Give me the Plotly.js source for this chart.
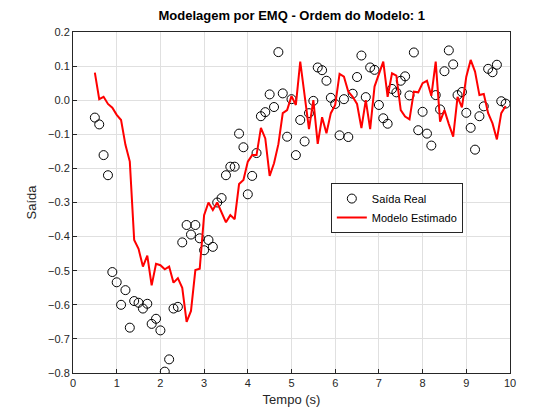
<!DOCTYPE html>
<html>
<head>
<meta charset="utf-8">
<script src="https://cdn.plot.ly/plotly-3.0.1.min.js"></script>
<style>body{margin:0;background:#fff}#graph{width:560px;height:420px}</style>
</head>
<body>
<div id="graph"></div>
<script>
var tempo = [0.5,0.6,0.7,0.8,0.9,1.0,1.1,1.2,1.3,1.4,1.5,1.6,1.7,1.8,1.9,2.0,2.1,2.2,2.3,2.4,
  2.5,2.6,2.7,2.8,2.9,3.0,3.1,3.2,3.3,3.4,3.5,3.6,3.7,3.8,3.9,4.0,4.1,4.2,4.3,4.4,
  4.5,4.6,4.7,4.8,4.9,5.0,5.1,5.2,5.3,5.4,5.5,5.6,5.7,5.8,5.9,6.0,6.1,6.2,6.3,6.4,
  6.5,6.6,6.7,6.8,6.9,7.0,7.1,7.2,7.3,7.4,7.5,7.6,7.7,7.8,7.9,8.0,8.1,8.2,8.3,8.4,
  8.5,8.6,8.7,8.8,8.9,9.0,9.1,9.2,9.3,9.4,9.5,9.6,9.7,9.8,9.9];

var saidaReal = [-0.051,-0.071,-0.161,-0.220,-0.504,-0.534,-0.600,-0.557,-0.667,-0.589,
  -0.594,-0.611,-0.597,-0.656,-0.641,-0.675,-0.796,-0.760,-0.611,-0.606,
  -0.417,-0.366,-0.394,-0.366,-0.405,-0.440,-0.410,-0.430,-0.300,-0.287,
  -0.220,-0.195,-0.195,-0.098,-0.138,-0.276,-0.222,-0.155,-0.047,-0.035,
  0.017,-0.020,0.141,0.020,-0.107,0.003,-0.161,-0.058,-0.121,-0.038,
  -0.002,0.096,0.088,0.057,0.007,-0.011,-0.103,0.003,-0.108,0.019,
  0.068,0.131,0.009,0.096,0.089,-0.014,-0.053,-0.069,0.033,0.023,
  0.057,0.070,0.014,0.140,-0.088,-0.034,-0.098,-0.133,0.015,-0.027,
  0.085,0.146,0.105,0.015,0.024,-0.037,-0.081,-0.145,-0.047,-0.018,
  0.092,0.082,0.104,-0.003,-0.010];

var modeloEstimado = [0.081,0.003,0.010,-0.011,-0.022,-0.043,-0.058,-0.131,-0.180,-0.410,
  -0.436,-0.488,-0.456,-0.543,-0.480,-0.484,-0.496,-0.488,-0.535,-0.522,
  -0.550,-0.650,-0.618,-0.498,-0.494,-0.337,-0.300,-0.322,-0.300,-0.330,
  -0.358,-0.337,-0.349,-0.246,-0.234,-0.180,-0.161,-0.161,-0.081,-0.112,
  -0.222,-0.185,-0.129,-0.038,-0.029,0.012,-0.014,0.113,0.006,-0.085,
  0.000,-0.128,-0.050,-0.097,-0.038,-0.014,0.077,0.069,0.025,0.010,
  -0.011,-0.082,0.000,-0.085,0.040,0.076,0.113,0.010,0.079,0.072,
  -0.029,-0.048,-0.056,0.025,0.023,0.050,0.057,0.013,0.113,-0.063,
  -0.029,-0.070,-0.107,0.010,-0.021,0.069,0.118,0.084,0.015,0.018,
  -0.038,-0.068,-0.115,-0.038,-0.017];

var eixo = {
  showline: true, mirror: true, linecolor: '#262626', linewidth: 1,
  ticks: 'inside', ticklen: 4, tickcolor: '#262626',
  showgrid: true, gridcolor: '#e0e0e0', zeroline: false,
  tickfont: {size: 11, color: '#262626'}
};

var data = [
  {x: tempo, y: saidaReal, type: 'scatter', mode: 'markers', name: 'Saída Real',
   marker: {symbol: 'circle-open', size: 9, color: '#000', line: {width: 1}}},
  {x: tempo, y: modeloEstimado, type: 'scatter', mode: 'lines', name: 'Modelo Estimado',
   line: {color: '#ff0000', width: 2}}
];

var layout = {
  width: 560, height: 420,
  margin: {l: 73, r: 50, t: 32, b: 47},
  paper_bgcolor: '#fff', plot_bgcolor: '#fff',
  font: {family: 'Liberation Sans, Arial, sans-serif', color: '#262626'},
  title: {text: '<b>Modelagem por EMQ - Ordem do Modelo: 1</b>', font: {size: 13, color: '#000'},
          x: 0.521, xanchor: 'center', y: 0.975, yanchor: 'top'},
  xaxis: Object.assign({}, eixo, {range: [0, 10], dtick: 1,
          title: {text: 'Tempo (s)', font: {size: 13}, standoff: 6}}),
  yaxis: Object.assign({}, eixo, {range: [-0.8, 0.2], dtick: 0.1, tickformat: '.1f',
          title: {text: 'Saída', font: {size: 13}, standoff: 8}}),
  legend: {x: 0.59, y: 0.557, xanchor: 'left', yanchor: 'top',
           bordercolor: '#262626', borderwidth: 1, bgcolor: '#fff',
           font: {size: 11, color: '#000'}, tracegroupgap: 0},
  showlegend: true
};

Plotly.newPlot('graph', data, layout, {displayModeBar: false, staticPlot: true});
</script>
</body>
</html>
